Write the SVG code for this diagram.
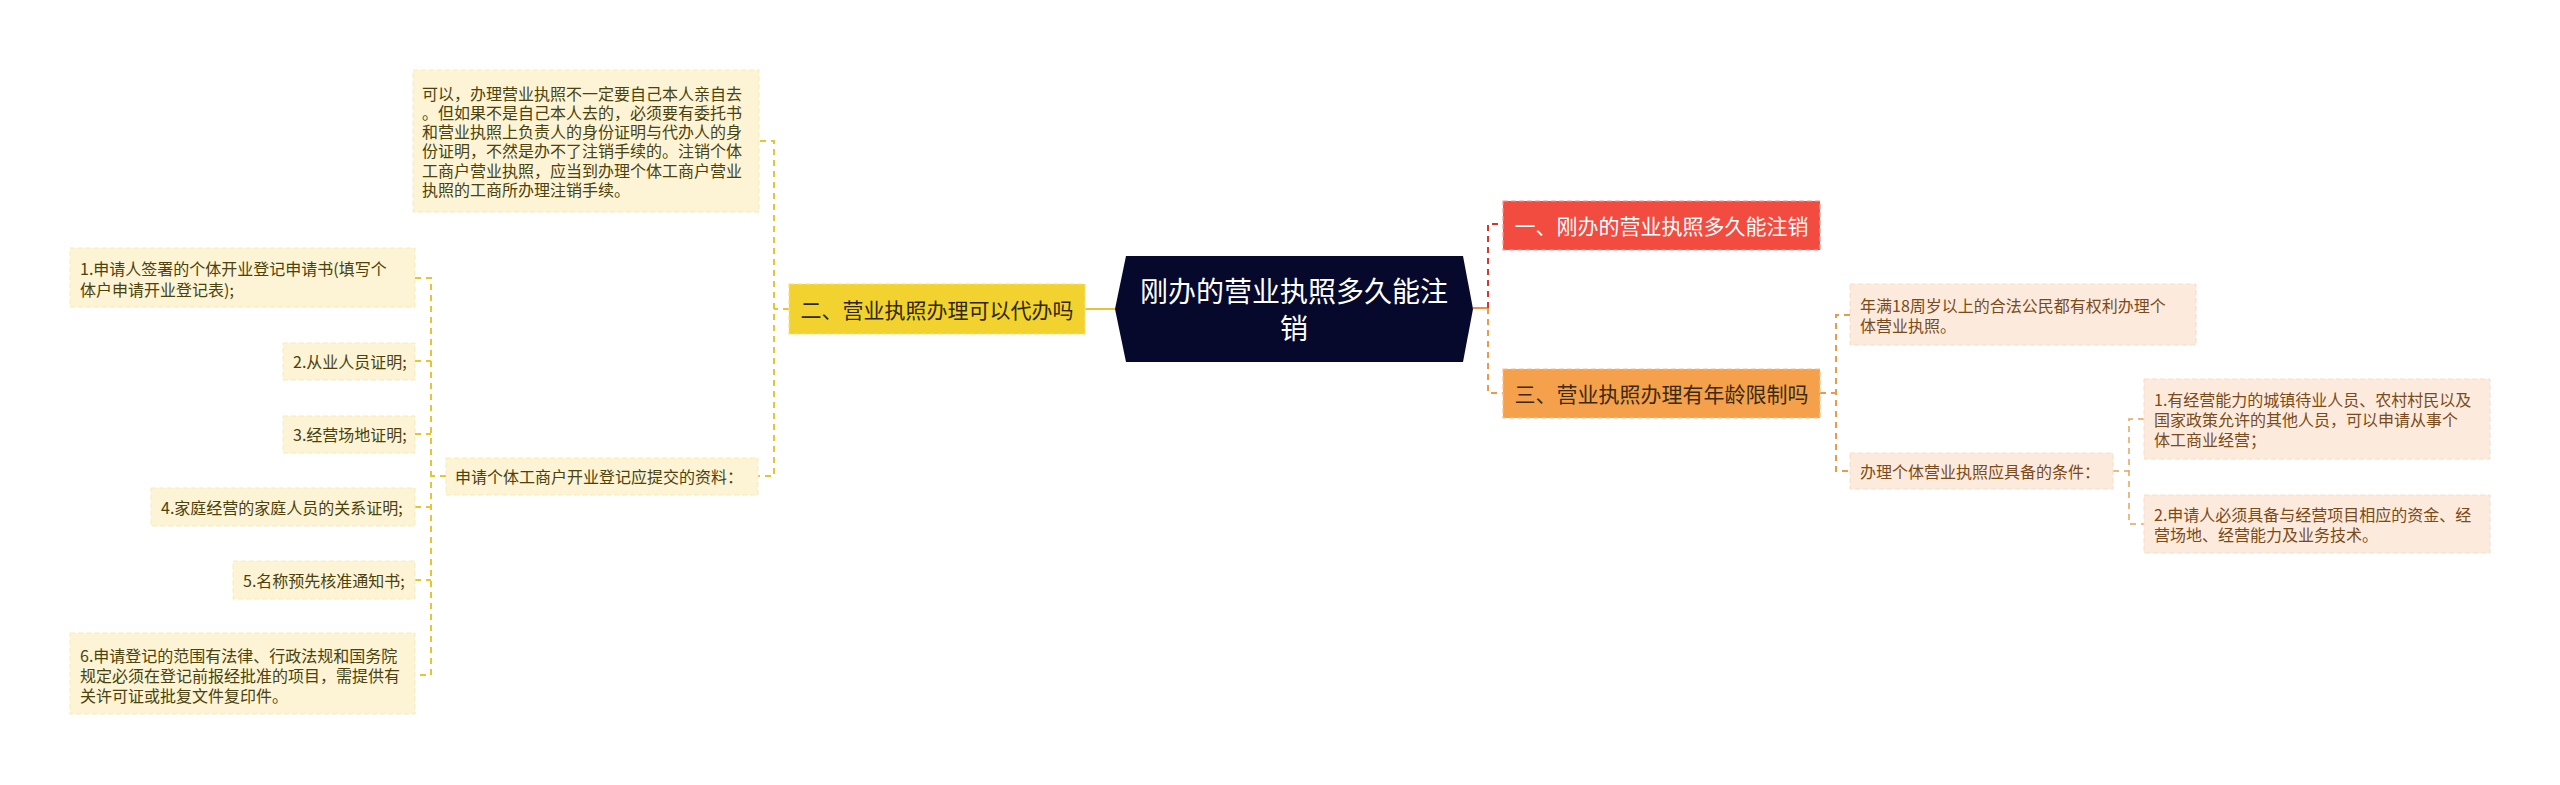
<svg xmlns="http://www.w3.org/2000/svg" width="2560" height="785" viewBox="0 0 2560 785">
<style>
text{font-family:"Noto Sans CJK SC","Microsoft YaHei",sans-serif;dominant-baseline:central}
.t16{font-size:16px}
.lf{fill:#fcf4d5;stroke:#f6ebb8;stroke-width:1;stroke-dasharray:5 3}
.lt{fill:#4b420e}
.rf{fill:#fcebdc;stroke:#f7dcc4;stroke-width:1;stroke-dasharray:5 3}
.rt{fill:#7a4a1b}
.cy{fill:none;stroke:#e8c434;stroke-width:2;stroke-dasharray:6 5}
.cr{fill:none;stroke:#d8362d;stroke-width:2;stroke-dasharray:6 5}
.co{fill:none;stroke:#eb9a4a;stroke-width:2;stroke-dasharray:6 5}
.cp{fill:none;stroke:#e3a45f;stroke-width:1.5;stroke-dasharray:6 5}
</style>
<rect width="2560" height="785" fill="#ffffff"/>
<g id="connectors">
  <line x1="1085" y1="309" x2="1115" y2="309" stroke="#e8c434" stroke-width="2"/>
  <line x1="1473" y1="308" x2="1488" y2="308" stroke="#ec8f42" stroke-width="2"/>
  <path class="cy" d="M789 309H774M760 141H774V476H758"/>
  <path class="cy" d="M446 476H431M415 278H431V675H415M415 361H431M415 434H431M415 507H431M415 580H431"/>
  <path class="cr" d="M1488 308V224H1503"/>
  <path class="co" d="M1488 308V393H1503"/>
  <path class="co" d="M1820 393H1836M1850 315H1836V471H1850"/>
  <path class="cp" d="M2113 471H2129M2144 419H2129V524H2144"/>
</g>
<g id="center">
  <polygon points="1115,309 1126,256 1463,256 1473,309 1463,362 1126,362" fill="#06092b"/>
  <text x="1294" y="290" font-size="28" fill="#ffffff" text-anchor="middle">刚办的营业执照多久能注</text>
  <text x="1294" y="327" font-size="28" fill="#ffffff" text-anchor="middle">销</text>
</g>
<g id="b2">
  <rect x="789" y="284" width="296" height="50" fill="#f2d22f" stroke="#f6e27e" stroke-width="1.2" stroke-dasharray="5 3"/>
  <text x="937" y="309" font-size="21" fill="#2e2700" text-anchor="middle">二、营业执照办理可以代办吗</text>
</g>
<g id="b1">
  <rect x="1503" y="201" width="317" height="49" fill="#f24b40" stroke="#f7988f" stroke-width="1.2" stroke-dasharray="5 3"/>
  <text x="1661.5" y="225" font-size="21" fill="#ffffff" text-anchor="middle">一、刚办的营业执照多久能注销</text>
</g>
<g id="b3">
  <rect x="1503" y="369" width="317" height="49" fill="#f5a14c" stroke="#f8c083" stroke-width="1.2" stroke-dasharray="5 3"/>
  <text x="1661.5" y="393" font-size="21" fill="#3b2913" text-anchor="middle">三、营业执照办理有年龄限制吗</text>
</g>
<g id="n-daiban">
  <rect class="lf" x="413" y="70" width="346" height="142"/>
  <text class="t16 lt" x="422" y="93">可以，办理营业执照不一定要自己本人亲自去</text>
  <text class="t16 lt" x="422" y="112">。但如果不是自己本人去的，必须要有委托书</text>
  <text class="t16 lt" x="422" y="131">和营业执照上负责人的身份证明与代办人的身</text>
  <text class="t16 lt" x="422" y="150">份证明，不然是办不了注销手续的。注销个体</text>
  <text class="t16 lt" x="422" y="170">工商户营业执照，应当到办理个体工商户营业</text>
  <text class="t16 lt" x="422" y="189">执照的工商所办理注销手续。</text>
</g>
<g id="n-ziliao">
  <rect class="lf" x="446" y="458" width="312" height="37"/>
  <text class="t16 lt" x="455" y="476">申请个体工商户开业登记应提交的资料：</text>
</g>
<g id="n-l1">
  <rect class="lf" x="70" y="248" width="345" height="59"/>
  <text class="t16 lt" x="80" y="268">1.申请人签署的个体开业登记申请书(填写个</text>
  <text class="t16 lt" x="80" y="289">体户申请开业登记表);</text>
</g>
<g id="n-l2">
  <rect class="lf" x="283" y="343" width="132" height="37"/>
  <text class="t16 lt" x="293" y="361">2.从业人员证明;</text>
</g>
<g id="n-l3">
  <rect class="lf" x="283" y="416" width="132" height="37"/>
  <text class="t16 lt" x="293" y="434">3.经营场地证明;</text>
</g>
<g id="n-l4">
  <rect class="lf" x="151" y="488" width="264" height="38"/>
  <text class="t16 lt" x="161" y="507">4.家庭经营的家庭人员的关系证明;</text>
</g>
<g id="n-l5">
  <rect class="lf" x="233" y="561" width="182" height="38"/>
  <text class="t16 lt" x="243" y="580">5.名称预先核准通知书;</text>
</g>
<g id="n-l6">
  <rect class="lf" x="70" y="633" width="345" height="81"/>
  <text class="t16 lt" x="80" y="655">6.申请登记的范围有法律、行政法规和国务院</text>
  <text class="t16 lt" x="80" y="675">规定必须在登记前报经批准的项目，需提供有</text>
  <text class="t16 lt" x="80" y="695">关许可证或批复文件复印件。</text>
</g>
<g id="n-age">
  <rect class="rf" x="1850" y="284" width="346" height="61"/>
  <text class="t16 rt" x="1860" y="305">年满18周岁以上的合法公民都有权利办理个</text>
  <text class="t16 rt" x="1860" y="325">体营业执照。</text>
</g>
<g id="n-cond">
  <rect class="rf" x="1850" y="453" width="263" height="36"/>
  <text class="t16 rt" x="1860" y="471">办理个体营业执照应具备的条件：</text>
</g>
<g id="n-c1">
  <rect class="rf" x="2144" y="379" width="346" height="80"/>
  <text class="t16 rt" x="2154" y="399">1.有经营能力的城镇待业人员、农村村民以及</text>
  <text class="t16 rt" x="2154" y="419">国家政策允许的其他人员，可以申请从事个</text>
  <text class="t16 rt" x="2154" y="439">体工商业经营；</text>
</g>
<g id="n-c2">
  <rect class="rf" x="2144" y="495" width="346" height="58"/>
  <text class="t16 rt" x="2154" y="514">2.申请人必须具备与经营项目相应的资金、经</text>
  <text class="t16 rt" x="2154" y="534">营场地、经营能力及业务技术。</text>
</g>
</svg>
